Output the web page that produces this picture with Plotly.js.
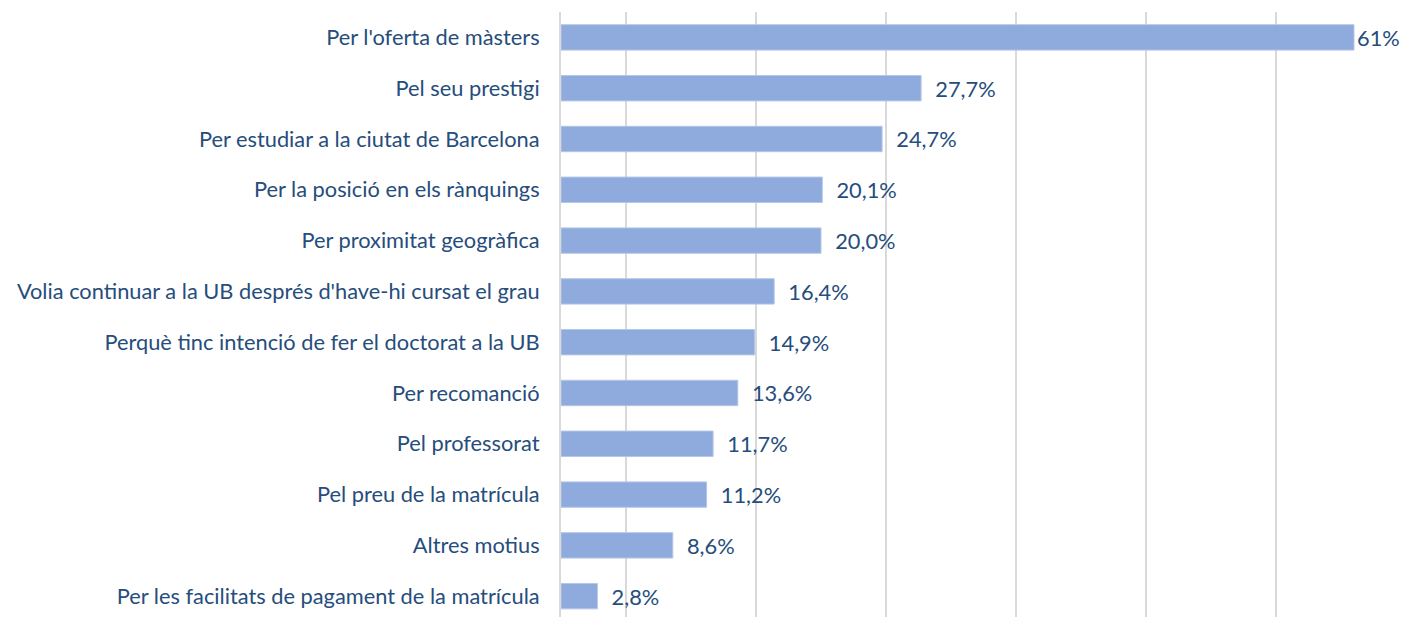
<!DOCTYPE html>
<html>
<head>
<meta charset="utf-8">
<script src="https://cdn.plot.ly/plotly-3.0.1.min.js"></script>
<style>html,body{margin:0;padding:0;background:#fff;}#chart{width:1403px;height:617px;}</style>
</head>
<body>
<div id="chart"></div>
<script>
// categories listed bottom-to-top
var categories = [
  "Per les facilitats de pagament de la matrícula",
  "Altres motius",
  "Pel preu de la matrícula",
  "Pel professorat",
  "Per recomanció",
  "Perquè tinc intenció de fer el doctorat a la UB",
  "Volia continuar a la UB després d'have-hi cursat el grau",
  "Per proximitat geogràfica",
  "Per la posició en els rànquings",
  "Per estudiar a la ciutat de Barcelona",
  "Pel seu prestigi",
  "Per l'oferta de màsters"
];
var values = [2.8, 8.6, 11.2, 11.7, 13.6, 14.9, 16.4, 20.0, 20.1, 24.7, 27.7, 61];
var valueLabels = ["2,8%", "8,6%", "11,2%", "11,7%", "13,6%", "14,9%", "16,4%", "20,0%", "20,1%", "24,7%", "27,7%", "61%"];

var textColor = "#264D7C";
var pad = "\u00a0\u00a0";
var texts = valueLabels.map(function(t, i){ return (i === valueLabels.length - 1 ? "" : pad) + t; });
var fam = "Lato, 'Open Sans', sans-serif";

var trace = {
  type: "bar",
  orientation: "h",
  y: categories,
  x: values,
  text: texts,
  textposition: "outside",
  constraintext: "none",
  cliponaxis: false,
  textfont: {family: fam, size: 21.8, color: textColor},
  marker: {color: "#8FAADC", line: {color: "#B4C7E7", width: 1}},
  width: 0.5,
  hoverinfo: "none"
};

var layout = {
  width: 1403,
  height: 617,
  margin: {l: 561, r: 23, t: 12, b: 0, pad: 0},
  paper_bgcolor: "#ffffff",
  plot_bgcolor: "#ffffff",
  showlegend: false,
  font: {family: fam, size: 21.8, color: textColor},
  xaxis: {
    range: [0, 63],
    tick0: 5,
    dtick: 10,
    showticklabels: false,
    showgrid: true,
    gridcolor: "#D9D9D9",
    gridwidth: 2,
    zeroline: false,
    showline: false,
    fixedrange: true
  },
  yaxis: {
    type: "category",
    range: [-0.41, 11.5],
    showgrid: false,
    zeroline: false,
    showline: true,
    linecolor: "#D9D9D9",
    linewidth: 2,
    ticks: "",
    ticklabelstandoff: 15,
    tickfont: {family: fam, size: 21.8, color: textColor},
    fixedrange: true
  }
};

Plotly.newPlot("chart", [trace], layout, {displayModeBar: false, staticPlot: true});
</script>
</body>
</html>
